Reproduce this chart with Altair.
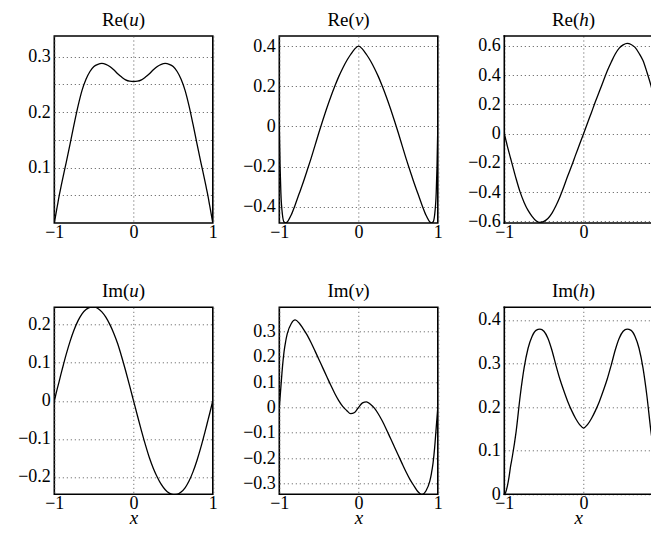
import altair as alt
import pandas as pd

# common x grid
X = [-1, -0.99, -0.98, -0.96, -0.94, -0.92,
     -0.9, -0.85, -0.8, -0.75, -0.7, -0.65, -0.6, -0.55, -0.5, -0.45,
     -0.4, -0.35, -0.3, -0.25, -0.2, -0.15, -0.1, -0.05, 0,
     0.05, 0.1, 0.15, 0.2, 0.25, 0.3, 0.35, 0.4, 0.45, 0.5, 0.55,
     0.6, 0.65, 0.7, 0.75, 0.8, 0.85, 0.9,
     0.92, 0.94, 0.96, 0.98, 0.99, 1]

re_u = [0, 0.008, 0.016, 0.032, 0.048, 0.062,
        0.076, 0.109, 0.143, 0.178, 0.211, 0.239, 0.259, 0.273, 0.282, 0.286,
        0.2875, 0.286, 0.282, 0.276, 0.269, 0.263, 0.258, 0.2555, 0.255,
        0.2555, 0.258, 0.263, 0.269, 0.276, 0.282, 0.286, 0.2875, 0.286, 0.282, 0.273,
        0.259, 0.239, 0.211, 0.178, 0.143, 0.109, 0.076,
        0.062, 0.048, 0.032, 0.016, 0.008, 0]

re_v = [0, -0.2, -0.33, -0.44, -0.475, -0.48,
        -0.475, -0.44, -0.39, -0.335, -0.28, -0.22, -0.16, -0.095, -0.03, 0.032,
        0.092, 0.148, 0.2, 0.248, 0.29, 0.327, 0.358, 0.385, 0.40,
        0.385, 0.358, 0.327, 0.29, 0.248, 0.2, 0.148, 0.092, 0.032, -0.03, -0.095,
        -0.16, -0.22, -0.28, -0.335, -0.39, -0.44, -0.475,
        -0.48, -0.475, -0.44, -0.33, -0.2, 0]

re_h = [0, -0.022, -0.044, -0.088, -0.13, -0.17,
        -0.21, -0.31, -0.40, -0.47, -0.525, -0.565, -0.595, -0.607, -0.60, -0.58,
        -0.545, -0.495, -0.435, -0.365, -0.29, -0.22, -0.145, -0.073, 0,
        0.073, 0.145, 0.22, 0.29, 0.36, 0.43, 0.49, 0.545, 0.585, 0.607, 0.617,
        0.61, 0.59, 0.55, 0.50, 0.42, 0.33, 0.22,
        0.175, 0.13, 0.085, 0.04, 0.02, 0]

im_u = [0, 0.008, 0.017, 0.034, 0.05, 0.067,
        0.083, 0.122, 0.157, 0.187, 0.211, 0.229, 0.240, 0.246, 0.247, 0.243,
        0.234, 0.22, 0.201, 0.178, 0.15, 0.116, 0.079, 0.04, 0,
        -0.04, -0.079, -0.116, -0.15, -0.178, -0.201, -0.22, -0.234, -0.243, -0.247, -0.246,
        -0.240, -0.229, -0.211, -0.187, -0.157, -0.122, -0.083,
        -0.067, -0.05, -0.034, -0.017, -0.008, 0]

im_v = [0, 0.04, 0.08, 0.16, 0.22, 0.26,
        0.29, 0.33, 0.345, 0.333, 0.311, 0.286, 0.256, 0.223, 0.189, 0.155,
        0.121, 0.087, 0.055, 0.027, 0.004, -0.012, -0.025, -0.02, 0,
        0.018, 0.022, 0.012, -0.003, -0.026, -0.054, -0.086, -0.12, -0.154, -0.188, -0.222,
        -0.255, -0.285, -0.31, -0.333, -0.344, -0.33, -0.29,
        -0.26, -0.22, -0.16, -0.08, -0.04, 0]

im_h = [0, 0.002, 0.006, 0.02, 0.04, 0.065,
        0.085, 0.145, 0.225, 0.29, 0.335, 0.362, 0.376, 0.379, 0.374, 0.358,
        0.331, 0.297, 0.265, 0.238, 0.213, 0.192, 0.174, 0.16, 0.152,
        0.16, 0.174, 0.192, 0.213, 0.238, 0.265, 0.297, 0.331, 0.358, 0.374, 0.379,
        0.376, 0.362, 0.335, 0.29, 0.225, 0.145, 0.085,
        0.065, 0.04, 0.02, 0.006, 0.002, 0]

# panel titles: prefix, italic variable, suffix
title_prefix = ["Re(", "Re(", "Re(", "Im(", "Im(", "Im("]
title_var = ["u", "v", "h", "u", "v", "h"]
title_suffix = [")", ")", ")", ")", ")", ")"]

series = [re_u, re_v, re_h, im_u, im_v, im_h]
y_domains = [[0, 0.337], [-0.48, 0.45], [-0.611, 0.668],
             [-0.246, 0.246], [-0.343, 0.395], [0, 0.429]]
y_grids = [[0.05, 0.1, 0.15, 0.2, 0.25, 0.3],
           [-0.4, -0.2, 0, 0.2, 0.4],
           [-0.6, -0.4, -0.2, 0, 0.2, 0.4, 0.6],
           [-0.2, -0.1, 0, 0.1, 0.2],
           [-0.3, -0.2, -0.1, 0, 0.1, 0.2, 0.3],
           [0, 0.1, 0.2, 0.3, 0.4]]
x_ticks = [-1, 0, 1]
x_ticks_cut = [-1, 0]

FONT = "Liberation Serif"
W, H = 158.5, 187
COL_GAP, ROW_GAP = 66, 84.3
TFS = 19  # title font size
LFS = 18  # tick label font size
VAR_W = {"u": 0.5, "v": 0.444, "h": 0.5}  # italic advance widths (em)
YLABEL = ("abs(datum.value*10 - round(datum.value*10)) < 0.001 ? "
          "(abs(datum.value) < 1e-9 ? '0' : format(datum.value, '.1f')) : ''")
XLABEL = "abs(datum.value) < 1e-9 ? '0' : format(datum.value, 'd')"

GRID = dict(domain=False, ticks=False, grid=True, gridDash=[1, 3],
            gridColor="#555", gridWidth=1, labelFont=FONT, labelFontSize=LFS,
            labelColor="black")

# drawing area that fits the page without scrolling; the right column runs
# off its edge, as in the original figure
SVG_W, SVG_H = 643, 518
PLOT_LEFT, PLOT_TOP = 46.3, 28
W3 = SVG_W - PLOT_LEFT - 2 * (W + COL_GAP)       # visible width of right column
X3_MAX = -1 + 2 * W3 / W                           # x reached at the edge


def title_layers(i):
    pre_w = 1.444 * TFS
    var_w = VAR_W[title_var[i]] * TFS
    suf_w = 0.333 * TFS
    total = pre_w + var_w + suf_w
    x0 = W / 2 - 10 - total / 2
    parts = [(title_prefix[i], x0, "normal"),
             (title_var[i], x0 + pre_w, "italic"),
             (title_suffix[i], x0 + pre_w + var_w, "normal")]
    layers = []
    for txt, xp, style in parts:
        layers.append(
            alt.Chart(pd.DataFrame({"t": [txt]})).mark_text(
                align="left", baseline="alphabetic", font=FONT, fontSize=TFS,
                fontStyle=style, color="black"
            ).encode(text="t:N", x=alt.value(xp), y=alt.value(-10))
        )
    return layers


def open_frame(width):
    """left, top and bottom edges of a frame whose right edge is off-page"""
    one = pd.DataFrame({"k": [0]})
    base = alt.Chart(one).mark_rule(color="black", strokeWidth=1.6)
    return [
        base.encode(x=alt.value(0), y=alt.value(-0.8), y2=alt.value(H + 0.8)),
        base.encode(x=alt.value(-0.8), x2=alt.value(width), y=alt.value(0)),
        base.encode(x=alt.value(-0.8), x2=alt.value(width), y=alt.value(H)),
    ]


def panel(i):
    df = pd.DataFrame({"x": X, "y": series[i]})
    bottom = i >= 3
    cut = i % 3 == 2
    width = W3 if cut else W
    xdom = [-1, X3_MAX] if cut else [-1, 1]
    x_axis_kw = dict(GRID, values=x_ticks_cut if cut else x_ticks,
                     labelExpr=XLABEL, labelPadding=0, labelFlush=False)
    if bottom:
        x_axis_kw.update(title="x", titleFont=FONT, titleFontStyle="italic",
                         titlePadding=-3.5, titleFontSize=TFS,
                         titleFontWeight="normal", titleColor="black")
    else:
        x_axis_kw.update(title=None)
    line = alt.Chart(df).mark_line(
        color="black", strokeWidth=1.3, clip=True, interpolate="monotone"
    ).encode(
        x=alt.X("x:Q", scale=alt.Scale(domain=xdom, nice=False, zero=False),
                axis=alt.Axis(**x_axis_kw)),
        y=alt.Y("y:Q", scale=alt.Scale(domain=y_domains[i], nice=False, zero=False),
                axis=alt.Axis(values=y_grids[i], labelExpr=YLABEL, title=None,
                              labelPadding=4, **GRID)),
    )
    layers = [line] + title_layers(i)
    if cut:
        layers += open_frame(width)
        return alt.layer(*layers).properties(
            width=width, height=H, view=alt.ViewBackground(stroke="transparent"))
    return alt.layer(*layers).properties(width=width, height=H)


chart = alt.concat(*[panel(i) for i in range(6)], columns=3, align="none",
                   spacing={"row": ROW_GAP, "column": COL_GAP},
                   bounds="flush").properties(
    autosize=alt.AutoSizeParams(type="none"),
    padding={"left": PLOT_LEFT, "top": PLOT_TOP,
             "right": SVG_W - PLOT_LEFT, "bottom": SVG_H - PLOT_TOP},
).configure(font=FONT).configure_view(
    stroke="black", strokeWidth=1.6
).configure_axis(**GRID)

chart.save("out.html", embed_options={"renderer": "svg", "actions": False})
